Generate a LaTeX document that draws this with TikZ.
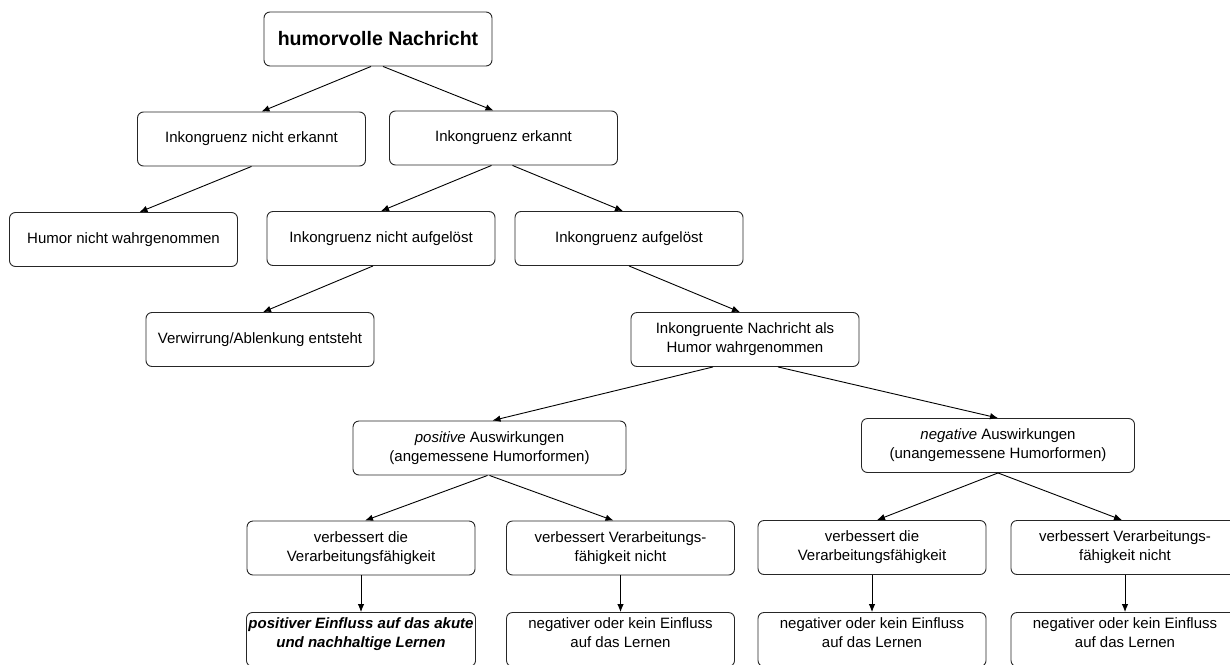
\documentclass[tikz,border=0pt]{standalone}
\usepackage{fontspec}
\setmainfont{Liberation Sans}
\usetikzlibrary{arrows.meta}

\begin{document}
\begin{tikzpicture}[->,>={Latex[length=8pt,width=6.5pt]},x=1pt,y=-1pt,line width=0.9pt,
	box node/.style={draw=black!85,rounded corners=6pt,minimum width=228pt,minimum height=54pt,
		inner sep=2pt,align=center,font=\fontsize{15}{19}\selectfont},
	wide node/.style={box node,minimum width=273pt},
	end node/.style={box node,text depth=13pt}]
	\useasboundingbox (0,0) rectangle (1230,664);
	
	\node[box node,font=\fontsize{19.5}{23}\selectfont\bfseries] (top) at (378,39) {humorvolle Nachricht};
	\node[box node] (ne) at (251.5,139) {Inkongruenz nicht erkannt};
	\node[box node] (er) at (503.5,138) {Inkongruenz erkannt};
	\node[box node] (hn) at (123.5,239.5) {Humor nicht wahrgenommen};
	\node[box node] (na) at (381,238.5) {Inkongruenz nicht aufgelöst};
	\node[box node] (au) at (629,238.5) {Inkongruenz aufgelöst};
	\node[box node] (vw) at (260,339.5) {Verwirrung/Ablenkung entsteht};
	\node[box node] (ih) at (745,339.5) {Inkongruente Nachricht als\\Humor wahrgenommen};
	\node[wide node] (pos) at (489.5,448) {\textit{positive} Auswirkungen\\(angemessene Humorformen)};
	\node[wide node] (neg) at (998,445.5) {\textit{negative} Auswirkungen\\(unangemessene Humorformen)};
	\node[box node] (v1) at (361,548) {verbessert die\\Verarbeitungsfähigkeit};
	\node[box node] (v2) at (620.5,548) {verbessert Verarbeitungs-\\fähigkeit nicht};
	\node[box node] (v3) at (872,547.5) {verbessert die\\Verarbeitungsfähigkeit};
	\node[box node] (v4) at (1125,547.5) {verbessert Verarbeitungs-\\fähigkeit nicht};
	\node[end node,font=\fontsize{15}{19}\selectfont\bfseries\itshape] (b1) at (361,639.5) {positiver Einfluss auf das akute\\und nachhaltige Lernen};
	\node[end node] (b2) at (620.5,639.5) {negativer oder kein Einfluss\\auf das Lernen};
	\node[end node] (b3) at (872,639.5) {negativer oder kein Einfluss\\auf das Lernen};
	\node[end node] (b4) at (1125,639.5) {negativer oder kein Einfluss\\auf das Lernen};
	
	\draw ([xshift=-7]top.south) -- ([xshift=10]ne.north);
	\draw ([xshift=5]top.south) -- ([xshift=-10]er.north);
	\draw (ne.south) -- ([xshift=16]hn.north);
	\draw ([xshift=-12]er.south) -- (na.north);
	\draw ([xshift=9]er.south) -- ([xshift=-6]au.north);
	\draw ([xshift=-8]na.south) -- ([xshift=3]vw.north);
	\draw (au.south) -- ([xshift=-5]ih.north);
	\draw ([xshift=-32]ih.south) -- ([xshift=3]pos.north);
	\draw ([xshift=33]ih.south) -- (neg.north);
	\draw ([xshift=-2]pos.south) -- ([xshift=4]v1.north);
	\draw (pos.south) -- ([xshift=-7]v2.north);
	\draw (neg.south) -- ([xshift=5]v3.north);
	\draw (neg.south) -- ([xshift=-3]v4.north);
	\draw (v1) -- (b1);
	\draw (v2) -- (b2);
	\draw (v3) -- (b3);
	\draw (v4) -- (b4);
\end{tikzpicture}
\end{document}
